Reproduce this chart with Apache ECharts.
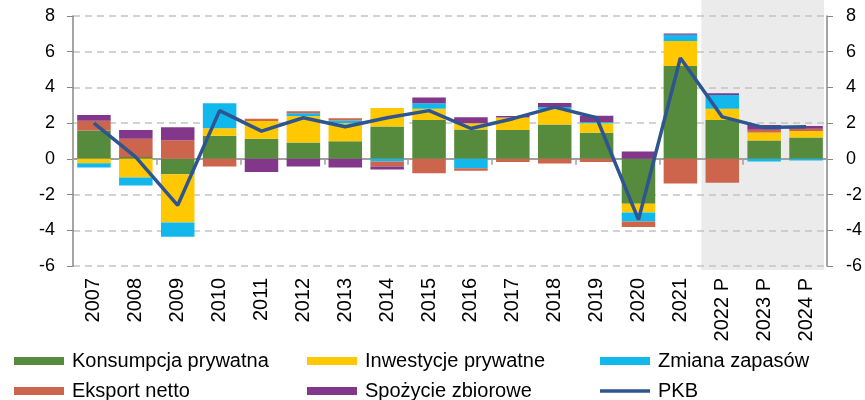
<!DOCTYPE html>
<html>
<head>
<meta charset="utf-8">
<script src="https://cdn.jsdelivr.net/npm/echarts@6/dist/echarts.min.js"></script>
<style>
  html, body { margin: 0; padding: 0; background: #fff; }
  #chart { width: 865px; height: 400px; }
</style>
</head>
<body>
<div id="chart"></div>
<script>
var years = ['2007', '2008', '2009', '2010', '2011', '2012', '2013', '2014', '2015', '2016',
    '2017', '2018', '2019', '2020', '2021', '2022 P', '2023 P', '2024 P'];

// wkłady do wzrostu PKB (pkt proc.)
var konsumpcja = [1.59, 0.10, -0.86, 1.29, 1.12, 0.91, 0.99, 1.81, 2.18, 1.64, 1.62, 1.92, 1.46, -2.52, 5.20, 2.18, 1.03, 1.19];
var inwestycje = [-0.24, -1.04, -2.70, 0.43, 1.00, 1.49, 1.01, 1.04, 0.62, 0.35, 0.69, 0.86, 0.54, -0.49, 1.40, 0.62, 0.45, 0.37];
var zapasy = [-0.24, -0.45, -0.80, 1.40, 0, 0.15, 0.15, -0.15, 0.32, -0.52, 0, 0.13, 0.07, -0.50, 0.35, 0.78, -0.15, -0.09];
var eksport = [0.54, 1.03, 1.04, -0.43, 0.13, 0.11, 0.13, -0.28, -0.80, -0.15, -0.17, -0.26, -0.17, -0.30, -1.38, -1.34, 0.15, 0.13];
var spozycie = [0.33, 0.49, 0.73, 0, -0.73, -0.43, -0.49, -0.17, 0.32, 0.34, 0.09, 0.22, 0.35, 0.41, 0.07, 0.09, 0.26, 0.15];
var pkb = [2.0, 0.1, -2.6, 2.7, 1.55, 2.3, 1.8, 2.3, 2.7, 1.7, 2.25, 2.9, 2.3, -3.4, 5.65, 2.35, 1.75, 1.8];

var yTicks = [-6, -4, -2, 0, 2, 4, 6, 8];

var font = "'Liberation Sans', Arial, sans-serif";

function barSeries(name, data, color) {
    return {
        name: name,
        type: 'bar',
        stack: 'wklad',
        barWidth: '80%',
        itemStyle: { color: color },
        data: data
    };
}

// jedna pozycja legendy = osobny komponent (stałe kolumny)
function legendItem(name, left, top, h) {
    return {
        left: left,
        top: top,
        padding: 0,
        icon: 'rect',
        itemWidth: 50,
        itemHeight: h || 8,
        data: [name],
        textStyle: { fontFamily: font, fontSize: 20, color: '#000', padding: [0, 0, 0, 3] }
    };
}

var yAxisBase = {
    type: 'value',
    min: yTicks[0],
    max: yTicks[yTicks.length - 1],
    interval: 2,
    axisLine: { show: true, lineStyle: { color: '#878787', width: 1.5 } },
    axisTick: { show: true, length: 6, lineStyle: { color: '#878787' } }
};

var myChart = echarts.init(document.getElementById('chart'));
myChart.setOption({
    animation: false,
    grid: { left: 73, right: 38, top: 16, bottom: 134 },
    legend: [
        legendItem('Konsumpcja prywatna', 14, 351),
        legendItem('Inwestycje prywatne', 307, 351),
        legendItem('Zmiana zapasów', 600, 351),
        legendItem('Eksport netto', 14, 381),
        legendItem('Spożycie zbiorowe', 307, 381),
        legendItem('PKB', 600, 381, 3.5)
    ],
    xAxis: [
        {
            type: 'category',
            data: years,
            axisLine: { onZero: true, lineStyle: { color: '#a0a0a0', width: 2 } },
            axisTick: { show: true, length: 6, lineStyle: { color: '#a0a0a0', width: 1.5 } },
            axisLabel: { show: false }
        },
        {
            type: 'category',
            data: years,
            position: 'bottom',
            axisLine: { show: false, onZero: false },
            axisTick: { show: false },
            axisLabel: { rotate: 90, margin: 12, fontFamily: font, fontSize: 20, color: '#000' }
        }
    ],
    yAxis: [
        Object.assign({}, yAxisBase, {
            position: 'left',
            splitLine: { show: true, lineStyle: { color: '#c4c4c4', type: [7, 5], width: 1.5 } },
            axisLabel: { margin: 18, fontFamily: font, fontSize: 18, color: '#000' }
        }),
        Object.assign({}, yAxisBase, {
            position: 'right',
            splitLine: { show: false },
            axisLabel: { margin: 19, fontFamily: font, fontSize: 18, color: '#000' }
        })
    ],
    series: [
        barSeries('Konsumpcja prywatna', konsumpcja, '#568a3c'),
        barSeries('Inwestycje prywatne', inwestycje, '#ffc800'),
        barSeries('Zmiana zapasów', zapasy, '#12b8ec'),
        barSeries('Eksport netto', eksport, '#cc654c'),
        barSeries('Spożycie zbiorowe', spozycie, '#82378a'),
        {
            name: 'PKB',
            type: 'line',
            symbol: 'none',
            z: 5,
            lineStyle: { color: '#2f5590', width: 3.5 },
            itemStyle: { color: '#2f5590' },
            data: pkb
        }
    ]
});

// szare tło dla lat prognozy
var c1 = myChart.convertToPixel({ xAxisIndex: 0 }, '2022 P');
var c2 = myChart.convertToPixel({ xAxisIndex: 0 }, '2023 P');
var c3 = myChart.convertToPixel({ xAxisIndex: 0 }, '2024 P');
var bw = c2 - c1;
var yBottom = myChart.convertToPixel({ yAxisIndex: 0 }, yTicks[0]);
myChart.setOption({
    graphic: [{
        type: 'rect',
        z: -10,
        shape: { x: c1 - bw / 2, y: 0, width: c3 - c1 + bw - 3, height: yBottom + 4 },
        style: { fill: '#ebebeb' }
    }]
});
</script>
</body>
</html>
